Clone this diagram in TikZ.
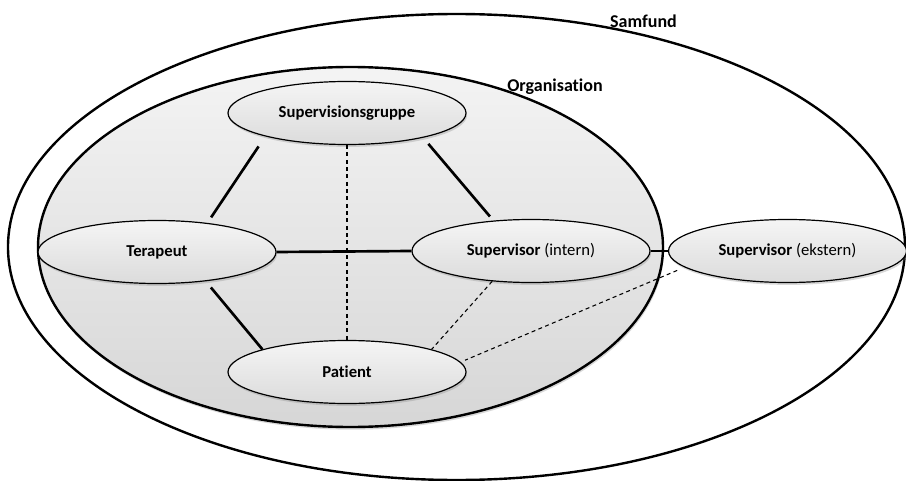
\documentclass[tikz,border=0pt]{standalone}
\usepackage{fontspec}
\setmainfont[Ligatures=NoCommon]{Carlito}
\usetikzlibrary{shapes.geometric,shadows}

\begin{document}
\begin{tikzpicture}[x=0.75pt,y=0.75pt,yscale=-1,xscale=1,
    ring/.style={ellipse,draw,line width=1.8pt,inner sep=0pt},
    party/.style={ellipse,draw,line width=0.9pt,inner sep=0pt,minimum width=178.5pt,minimum height=47.25pt,
        top color=gray!8,bottom color=gray!28,
        drop shadow={shadow xshift=0.8pt,shadow yshift=-1.8pt,opacity=0.3},
        font=\fontsize{12.5}{15}\selectfont},
    tie/.style={line width=2pt},
    hint/.style={line width=0.8pt,dash pattern=on 3pt off 2.5pt},
    caption/.style={anchor=base,font=\bfseries\fontsize{13.5}{16}\selectfont}]
\useasboundingbox (0,0) rectangle (906,481);

%Shape: Ellipse [Samfund]
\node[ring,fill=white,minimum width=672.75pt,minimum height=349.5pt] (samfund) at (456.5,247) {};
%Shape: Ellipse [Organisation]
\node[ring,minimum width=468.75pt,minimum height=270pt,top color=gray!9,bottom color=gray!32,
    drop shadow={shadow xshift=0.8pt,shadow yshift=-2pt,opacity=0.3}] (org) at (350.5,247) {};

% Text Node
\node[caption] (lblsamfund) at (643.5,28) {Samfund};
% Text Node
\node[caption] (lblorg) at (555,92) {Organisation};

%Shape: Ellipse
\node[party] (sg) at (347,113) {\textbf{Supervisionsgruppe}};
%Shape: Ellipse
\node[party] (ter) at (157,252) {\textbf{Terapeut}};
%Shape: Ellipse
\node[party] (si) at (531,251) {\textbf{Supervisor} (intern)};
%Shape: Ellipse
\node[party] (se) at (787.5,251) {\textbf{Supervisor} (ekstern)};
%Shape: Ellipse
\node[party] (pat) at (347,372) {\textbf{Patient}};

%Straight Lines
\draw[tie,shorten <=9pt,shorten >=5pt] (sg.196) -- (ter.30);
\draw[tie,shorten <=6pt,shorten >=4pt] (sg.342) -- (si.141);
\draw[tie,shorten <=6pt] (ter.329) -- (pat.165);
\draw[tie] (ter.east) -- (si.west);
\draw[tie] (si.east) -- (se.west);
%Dashed Lines
\draw[hint] (sg.south) -- (pat.north);
\draw[hint] (si.218) -- (pat.15);
\draw[hint,shorten <=6pt,shorten >=3.5pt] (se.189) -- (pat.5);
\end{tikzpicture}
\end{document}
